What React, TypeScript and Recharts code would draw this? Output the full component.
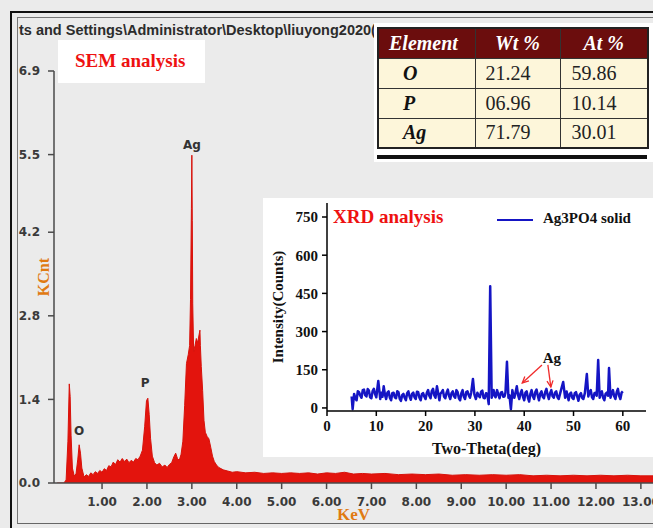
import React from 'react';
import {
  AreaChart,
  Area,
  XAxis,
  YAxis,
  ReferenceDot,
  LineChart,
  Line,
  ReferenceLine,
} from 'recharts';

// ---------- EDS spectrum (main chart) ----------
const edsEnergy = [
  0, 0.15, 0.2, 0.24, 0.27, 0.29, 0.31, 0.34, 0.38, 0.42,
  0.46, 0.49, 0.52, 0.55, 0.6, 0.65, 0.7, 0.75, 0.8, 0.85,
  0.9, 0.95, 1.0, 1.05, 1.1, 1.15, 1.2, 1.25, 1.3, 1.35,
  1.4, 1.45, 1.5, 1.55, 1.6, 1.65, 1.7, 1.75, 1.8, 1.85,
  1.9, 1.95, 1.99, 2.02, 2.05, 2.08, 2.12, 2.17, 2.22, 2.28,
  2.34, 2.4, 2.45, 2.5, 2.55, 2.6, 2.64, 2.68, 2.72, 2.76,
  2.8, 2.84, 2.88, 2.92, 2.95, 2.97, 2.99, 3.0, 3.01, 3.02,
  3.04, 3.07, 3.1, 3.13, 3.16, 3.18, 3.19, 3.21, 3.24, 3.27,
  3.3, 3.34, 3.38, 3.42, 3.46, 3.5, 3.55, 3.6, 3.7, 3.8,
  3.9, 4.0, 4.2, 4.4, 4.6, 4.8, 5.0, 5.2, 5.4, 5.6,
  5.8, 6.0, 6.2, 6.4, 6.6, 6.8, 7.0, 7.3, 7.6, 7.9,
  8.2, 8.5, 8.8, 9.1, 9.4, 9.7, 10.0, 10.3, 10.6, 10.9,
  11.2, 11.5, 11.8, 12.1, 12.4, 12.7, 13.0, 13.3,
];
const edsCounts = [
  0, 0, 0.05, 0.7, 1.66, 1.45, 0.8, 0.25, 0.12, 0.15,
  0.4, 0.64, 0.5, 0.25, 0.1, 0.14, 0.11, 0.17, 0.14, 0.19,
  0.16, 0.21, 0.18, 0.24, 0.21, 0.29, 0.27, 0.35, 0.31, 0.39,
  0.35, 0.41, 0.36, 0.4, 0.34, 0.38, 0.35, 0.41, 0.39, 0.45,
  0.55, 0.95, 1.38, 1.42, 1.15, 0.75, 0.45, 0.34, 0.3, 0.33,
  0.27, 0.3, 0.26, 0.31, 0.34, 0.44, 0.5, 0.41, 0.38, 0.48,
  0.7, 1.3, 2.0, 2.15, 2.3, 3.07, 4.6, 5.49, 4.4, 3.0,
  2.2, 2.3, 2.42, 2.35, 2.48, 2.56, 2.3, 1.95, 1.55, 1.05,
  0.85, 0.78, 0.74, 0.6, 0.45, 0.36, 0.3, 0.26, 0.22, 0.2,
  0.18, 0.19, 0.17, 0.18, 0.16, 0.17, 0.16, 0.17, 0.16, 0.17,
  0.15, 0.17, 0.16, 0.18, 0.15, 0.16, 0.15, 0.16, 0.14, 0.15,
  0.14, 0.15, 0.13, 0.14, 0.13, 0.14, 0.13, 0.14, 0.12, 0.13,
  0.12, 0.13, 0.12, 0.13, 0.12, 0.13, 0.12, 0.12,
];
const edsXTicks = [1, 2, 3, 4, 5, 6, 7, 8, 9, 10, 11, 12, 13];
const edsYTicks = [0, 1.4, 2.8, 4.2, 5.5, 6.9];
const edsPeakNames = ['O', 'P', 'Ag'];
const edsPeakEnergy = [0.49, 1.96, 3.0];
const edsPeakLabelHeight = [0.87, 1.68, 5.66];

// ---------- XRD pattern (inset) ----------
const xrdAngle = [
  5.0, 5.2, 5.5, 5.75, 6.0, 6.25, 6.5, 6.75, 7.0, 7.25,
  7.5, 7.75, 8.0, 8.25, 8.5, 8.75, 9.0, 9.25, 9.5, 9.75,
  10.0, 10.4, 10.8, 11.0, 11.25, 11.5, 11.75, 12.0, 12.25, 12.5,
  12.75, 13.0, 13.25, 13.5, 13.75, 14.0, 14.25, 14.5, 14.75, 15.0,
  15.25, 15.5, 15.75, 16.0, 16.25, 16.5, 16.75, 17.0, 17.25, 17.5,
  17.75, 18.0, 18.25, 18.5, 18.75, 19.0, 19.25, 19.5, 19.75, 20.0,
  20.25, 20.5, 20.75, 21.0, 21.25, 21.5, 21.75, 22.0, 22.3, 22.8,
  23.0, 23.25, 23.5, 23.75, 24.0, 24.25, 24.5, 24.75, 25.0, 25.25,
  25.5, 25.75, 26.0, 26.25, 26.5, 26.75, 27.0, 27.25, 27.5, 27.75,
  28.0, 28.25, 28.5, 28.75, 29.0, 29.25, 29.6, 29.9, 30.2, 30.5,
  30.75, 31.0, 31.25, 31.5, 31.75, 32.0, 32.25, 32.5, 32.8, 33.1,
  33.4, 33.6, 33.8, 34.0, 34.2, 34.5, 34.75, 35.0, 35.25, 35.5,
  35.75, 36.0, 36.2, 36.5, 36.8, 37.0, 37.3, 37.6, 37.8, 38.0,
  38.25, 38.5, 38.75, 39.0, 39.25, 39.5, 39.75, 40.0, 40.25, 40.5,
  40.75, 41.0, 41.25, 41.5, 41.75, 42.0, 42.25, 42.5, 42.75, 43.0,
  43.25, 43.5, 43.75, 44.0, 44.25, 44.5, 44.75, 45.0, 45.25, 45.5,
  45.75, 46.0, 46.25, 46.5, 46.75, 47.0, 47.3, 47.9, 48.3, 48.6,
  48.8, 49.0, 49.25, 49.5, 49.75, 50.0, 50.25, 50.5, 50.75, 51.0,
  51.25, 51.5, 51.75, 52.0, 52.3, 52.7, 53.0, 53.25, 53.5, 53.75,
  54.0, 54.25, 54.5, 54.7, 55.0, 55.3, 55.5, 55.75, 56.0, 56.25,
  56.5, 56.75, 57.0, 57.2, 57.5, 57.75, 58.0, 58.25, 58.5, 58.75,
  59.0, 59.25, 59.5, 59.75, 60.0,
];
const xrdCounts = [
  45, -5, 55, 38, 30, 66, 62, 48, 40, 70,
  72, 50, 45, 74, 68, 42, 38, 66, 75, 55,
  42, 106, 35, 60, 44, 85, 52, 35, 60, 65,
  40, 30, 58, 60, 42, 38, 66, 62, 36, 28,
  50, 55, 40, 30, 58, 65, 45, 32, 55, 60,
  42, 35, 64, 62, 40, 30, 55, 58, 44, 35,
  60, 70, 48, 38, 66, 75, 50, 40, 85, 30,
  56, 62, 70, 44, 38, 60, 72, 48, 35, 58,
  65, 46, 40, 70, 62, 38, 30, 58, 70, 44,
  35, 62, 65, 50, 40, 60, 114, 52, 35, 60,
  48, 42, 64, 68, 40, 38, 58, 55, 15, 478,
  40, 62, 70, 48, 42, 70, 52, 38, 60, 62,
  44, 45, 60, 181, 40, 50, -5, 70, 46, 40,
  62, 85, 50, 35, 58, 70, 44, 30, 60, 65,
  40, 25, 55, 70, 46, 35, 62, 72, 48, 30,
  56, 65, 44, 38, 62, 75, 50, 35, 58, 70,
  46, 40, 60, 65, 42, 35, 58, 102, 40, 65,
  46, 30, 55, 60, 40, 35, 58, 62, 44, 28,
  52, 58, 40, 35, 58, 133, 45, 62, 70, 42,
  35, 58, 60, 48, 188, 40, 58, 65, 40, 30,
  55, 60, 48, 157, 40, 56, 70, 46, 35, 62,
  75, 48, 35, 60, 65,
];
const xrdXTicks = [0, 10, 20, 30, 40, 50, 60];
const xrdYTicks = [0, 150, 300, 450, 600, 750];
const xrdSeriesName = 'Ag3PO4 solid';

// ---------- Composition table ----------
const tableHeaders = ['Element', 'Wt %', 'At %'];
const tableElements = ['O', 'P', 'Ag'];
const tableWt = ['21.24', '06.96', '71.79'];
const tableAt = ['59.86', '10.14', '30.01'];

const edsData = edsEnergy.map((e, i) => ({ e, c: edsCounts[i] }));
const xrdData = xrdAngle.map((a, i) => ({ a, c: xrdCounts[i] }));

const SERIF = "'Liberation Serif', 'Times New Roman', serif";
const SANS_BOLD = "'DejaVu Sans', Verdana, sans-serif";
const ORANGE = '#e07a12';
const RED_FILL = '#e3140d';
const BLUE = '#1515c4';

const Arrow = (props: any) => {
  const { x1, y1, x2, y2 } = props;
  if ([x1, y1, x2, y2].some((v) => typeof v !== 'number' || isNaN(v))) return null;
  const ang = Math.atan2(y2 - y1, x2 - x1);
  const len = 7;
  const a1 = ang + Math.PI - 0.45;
  const a2 = ang + Math.PI + 0.45;
  const p1 = `${x2 + len * Math.cos(a1)},${y2 + len * Math.sin(a1)}`;
  const p2 = `${x2 + len * Math.cos(a2)},${y2 + len * Math.sin(a2)}`;
  return (
    <g>
      <line x1={x1} y1={y1} x2={x2} y2={y2} stroke="#f02a2a" strokeWidth={1.3} />
      <polyline points={`${p1} ${x2},${y2} ${p2}`} fill="none" stroke="#f02a2a" strokeWidth={1.3} />
    </g>
  );
};

export default function App() {
  const cellBorder = '1.5px solid #333';
  return (
    <div
      style={{
        position: 'absolute',
        left: 0,
        top: 0,
        width: 653,
        height: 528,
        overflow: 'hidden',
        background: '#ebebeb',
      }}
    >
      {/* frame */}
      <div
        style={{
          position: 'absolute',
          left: 10,
          top: 11,
          width: 700,
          height: 600,
          borderLeft: '2px solid #111',
          borderTop: '2px solid #111',
        }}
      />
      <div
        style={{
          position: 'absolute',
          left: 17,
          top: 17,
          width: 700,
          height: 505,
          borderLeft: '1.5px solid #777',
          borderTop: '1.5px solid #777',
          borderBottom: '1.5px solid #666',
        }}
      />
      {/* title path */}
      <div
        style={{
          position: 'absolute',
          left: 19,
          top: 22,
          fontFamily: "'Liberation Sans', Arial, sans-serif",
          fontWeight: 700,
          fontSize: 14.5,
          color: '#2c2c2c',
          whiteSpace: 'nowrap',
        }}
      >
        {'ts and Settings\\Administrator\\Desktop\\liuyong2020('}
      </div>

      {/* EDS spectrum */}
      <div style={{ position: 'absolute', left: 0, top: 0 }}>
        <AreaChart
          width={653}
          height={528}
          data={edsData}
          margin={{ top: 71, right: 0, bottom: 15, left: 14 }}
        >
          <XAxis
            dataKey="e"
            type="number"
            domain={[-0.07, 13.27]}
            allowDataOverflow
            ticks={edsXTicks}
            interval={0}
            tickFormatter={(v: number) => v.toFixed(2)}
            stroke="#4a4a4a"
            strokeWidth={1.5}
            tickSize={6}
            tickMargin={8}
            height={30}
            tick={{ fill: '#3a3a3a', fontSize: 12, fontWeight: 700, fontFamily: SANS_BOLD }}
            label={{
              value: 'KeV',
              position: 'bottom',
              offset: -5,
              fill: ORANGE,
              fontSize: 17,
              fontWeight: 700,
              fontFamily: SERIF,
            }}
          />
          <YAxis
            type="number"
            domain={[0, 6.9]}
            allowDataOverflow
            ticks={edsYTicks}
            interval={0}
            tickFormatter={(v: number) => v.toFixed(1)}
            width={40}
            stroke="#4a4a4a"
            strokeWidth={1.5}
            tickSize={6}
            tickMargin={8}
            tick={{ fill: '#3a3a3a', fontSize: 12, fontWeight: 700, fontFamily: SANS_BOLD }}
            label={{
              value: 'KCnt',
              angle: -90,
              position: 'insideLeft',
              offset: 29,
              fill: ORANGE,
              fontSize: 16,
              fontWeight: 700,
              fontFamily: SERIF,
              style: { textAnchor: 'middle' },
            }}
          />
          <Area
            type="linear"
            dataKey="c"
            stroke="#d8120b"
            strokeWidth={1}
            fill={RED_FILL}
            fillOpacity={1}
            isAnimationActive={false}
            dot={false}
            activeDot={false}
          />
          {edsPeakNames.map((n, i) => (
            <ReferenceDot
              key={n}
              x={edsPeakEnergy[i]}
              y={edsPeakLabelHeight[i]}
              r={1}
              fill="none"
              stroke="none"
              label={{
                value: n,
                position: 'center',
                fill: '#333',
                fontSize: 12,
                fontWeight: 700,
                fontFamily: SANS_BOLD,
              }}
            />
          ))}
        </AreaChart>
      </div>

      {/* SEM label */}
      <div
        style={{
          position: 'absolute',
          left: 58,
          top: 40,
          width: 147,
          height: 43,
          background: '#fff',
        }}
      />
      <div
        style={{
          position: 'absolute',
          left: 75,
          top: 50,
          fontFamily: SERIF,
          fontWeight: 700,
          fontSize: 19,
          color: '#ee1111',
          whiteSpace: 'nowrap',
        }}
      >
        SEM analysis
      </div>

      {/* composition table */}
      <div
        style={{
          position: 'absolute',
          left: 374,
          top: 23,
          width: 279,
          height: 139,
          background: '#fff',
        }}
      />
      <table
        style={{
          position: 'absolute',
          left: 377,
          top: 27,
          width: 270,
          borderCollapse: 'collapse',
          border: '2px solid #222',
          fontFamily: SERIF,
          fontSize: 20,
          tableLayout: 'fixed',
        }}
      >
        <colgroup>
          <col style={{ width: 97 }} />
          <col style={{ width: 85 }} />
          <col style={{ width: 88 }} />
        </colgroup>
        <thead>
          <tr style={{ height: 30, background: '#6b0d0d' }}>
            {tableHeaders.map((h, i) => (
              <th
                key={h}
                style={{
                  color: '#fff',
                  fontStyle: 'italic',
                  fontWeight: 700,
                  fontSize: 20,
                  padding: 0,
                  paddingLeft: i === 0 ? 10 : 0,
                  textAlign: i === 0 ? 'left' : 'center',
                  border: cellBorder,
                }}
              >
                {h}
              </th>
            ))}
          </tr>
        </thead>
        <tbody>
          {tableElements.map((el, i) => (
            <tr key={el} style={{ height: 30, background: '#fdf6da' }}>
              <td
                style={{
                  fontWeight: 700,
                  fontStyle: 'italic',
                  border: cellBorder,
                  color: '#111',
                  padding: '0 0 0 24px',
                }}
              >
                {el}
              </td>
              <td style={{ border: cellBorder, padding: '0 0 0 10px', color: '#222' }}>{tableWt[i]}</td>
              <td style={{ border: cellBorder, padding: '0 0 0 11px', color: '#222' }}>{tableAt[i]}</td>
            </tr>
          ))}
        </tbody>
      </table>
      <div
        style={{
          position: 'absolute',
          left: 377,
          top: 155,
          width: 270,
          height: 4,
          background: '#111',
        }}
      />

      {/* XRD inset */}
      <div
        style={{
          position: 'absolute',
          left: 263,
          top: 198,
          width: 390,
          height: 259,
          background: '#fff',
        }}
      >
        <LineChart
          width={390}
          height={259}
          data={xrdData}
          margin={{ top: 5, right: 7, bottom: 6, left: 4 }}
        >
          <XAxis
            dataKey="a"
            type="number"
            domain={[0, 64.7]}
            allowDataOverflow
            ticks={xrdXTicks}
            interval={0}
            stroke="#000"
            strokeWidth={1.5}
            tickSize={5}
            tickMargin={4}
            height={40}
            tick={{ fill: '#111', fontSize: 15, fontWeight: 700, fontFamily: SERIF }}
            label={{
              value: 'Two-Theta(deg)',
              position: 'insideBottom',
              offset: -3,
              fill: '#111',
              fontSize: 16,
              fontWeight: 700,
              fontFamily: SERIF,
            }}
          />
          <XAxis
            xAxisId="top"
            orientation="top"
            type="number"
            domain={[0, 1]}
            height={0}
            tick={false}
            tickLine={false}
            stroke="#000"
            strokeWidth={1.5}
          />
          <YAxis
            type="number"
            domain={[-12, 805]}
            allowDataOverflow
            ticks={xrdYTicks}
            interval={0}
            width={60}
            stroke="#000"
            strokeWidth={1.5}
            tickSize={5}
            tickMargin={4}
            tick={{ fill: '#111', fontSize: 15, fontWeight: 700, fontFamily: SERIF }}
            label={{
              value: 'Intensity(Counts)',
              angle: -90,
              position: 'insideLeft',
              offset: 11,
              fill: '#111',
              fontSize: 15,
              fontWeight: 700,
              fontFamily: SERIF,
              style: { textAnchor: 'middle' },
            }}
          />
          <YAxis
            yAxisId="right"
            orientation="right"
            type="number"
            domain={[0, 1]}
            width={0}
            tick={false}
            tickLine={false}
            stroke="#000"
            strokeWidth={1.5}
          />
          <Line
            type="linear"
            dataKey="c"
            name={xrdSeriesName}
            stroke={BLUE}
            strokeWidth={2.5}
            strokeLinejoin="round"
            dot={false}
            activeDot={false}
            isAnimationActive={false}
          />
          <ReferenceLine
            segment={[
              { x: 43.6, y: 169 },
              { x: 39.6, y: 98 },
            ]}
            shape={Arrow}
          />
          <ReferenceLine
            segment={[
              { x: 44.8, y: 169 },
              { x: 45.4, y: 82 },
            ]}
            shape={Arrow}
          />
          <ReferenceDot
            x={45.6}
            y={196}
            r={1}
            fill="none"
            stroke="none"
            label={{
              value: 'Ag',
              position: 'center',
              fill: '#111',
              fontSize: 15,
              fontWeight: 700,
              fontFamily: SERIF,
            }}
          />
        </LineChart>

        {/* XRD label and legend */}
        <div
          style={{
            position: 'absolute',
            left: 70,
            top: 8,
            fontFamily: SERIF,
            fontWeight: 700,
            fontSize: 19,
            color: '#ee1111',
            whiteSpace: 'nowrap',
          }}
        >
          XRD analysis
        </div>
        <div
          style={{
            position: 'absolute',
            left: 234,
            top: 21,
            width: 36,
            height: 2,
            background: BLUE,
          }}
        />
        <div
          style={{
            position: 'absolute',
            left: 280,
            top: 12,
            fontFamily: SERIF,
            fontWeight: 700,
            fontSize: 15,
            color: '#111',
            whiteSpace: 'nowrap',
          }}
        >
          {xrdSeriesName}
        </div>
      </div>
    </div>
  );
}
